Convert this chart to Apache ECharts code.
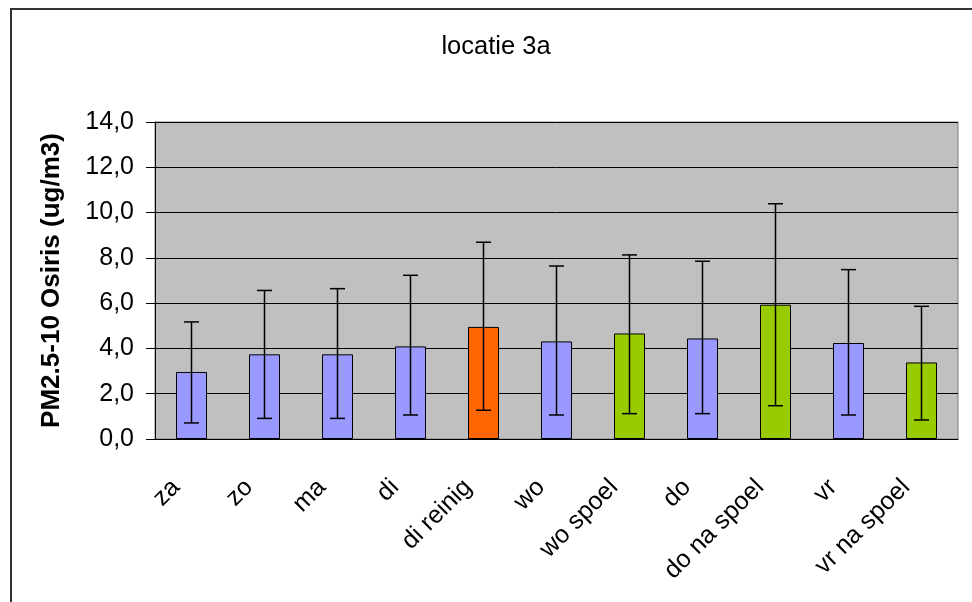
<!DOCTYPE html>
<html>
<head>
<meta charset="utf-8">
<script src="https://cdn.jsdelivr.net/npm/echarts@6/dist/echarts.min.js"></script>
<style>html,body{margin:0;padding:0;background:#fff;}#c{width:972px;height:602px;}</style>
</head>
<body>
<div id="c"></div>
<script>
const categories = ['za','zo','ma','di','di reinig','wo','wo spoel','do','do na spoel','vr','vr na spoel'];
const values   = [2.96, 3.74, 3.74, 4.09, 4.95, 4.31, 4.66, 4.44, 5.93, 4.24, 3.38];
const errLow   = [0.71, 0.91, 0.91, 1.06, 1.27, 1.06, 1.12, 1.12, 1.47, 1.06, 0.84];
const errHigh  = [5.17, 6.56, 6.64, 7.23, 8.69, 7.64, 8.13, 7.85, 10.39, 7.48, 5.86];
const groups   = ['dag','dag','dag','dag','reinig','dag','spoel','dag','spoel','dag','spoel'];
const yTicks   = [0, 2, 4, 6, 8, 10, 12, 14];

const groupColor = { dag: '#9999FF', reinig: '#FF6600', spoel: '#99CC00' };
const FONT = 'Liberation Sans, Arial, sans-serif';

const chart = echarts.init(document.getElementById('c'), null, { renderer: 'canvas' });
chart.setOption({
  animation: false,
  backgroundColor: '#ffffff',
  title: {
    text: 'locatie 3a',
    left: 491, top: 29, textAlign: 'center',
    textStyle: { fontFamily: FONT, fontSize: 25.5, fontWeight: 'normal', color: '#000' }
  },
  graphic: [{
    type: 'rect', silent: true, z: -10,
    shape: { x: 11, y: 9, width: 1100, height: 800 },
    style: { fill: 'none', stroke: '#333333', lineWidth: 2 }
  }],
  grid: {
    left: 155, right: 14, top: 122, bottom: 163,
    show: true, backgroundColor: '#C0C0C0', borderColor: '#808080', borderWidth: 1
  },
  xAxis: {
    type: 'category',
    data: categories,
    axisLine: { lineStyle: { color: '#000', width: 1 } },
    axisTick: { length: 8, lineStyle: { color: '#000' } },
    axisLabel: {
      rotate: 45, margin: 29, interval: 0, padding: [0, 22, 0, 0],
      fontFamily: FONT, fontSize: 25, color: '#000'
    }
  },
  yAxis: {
    type: 'value', min: yTicks[0], max: yTicks[yTicks.length - 1], interval: 2,
    name: 'PM2.5-10 Osiris (ug/m3)',
    nameLocation: 'middle', nameGap: 90, nameRotate: 90,
    nameTextStyle: { fontFamily: FONT, fontSize: 26, fontWeight: 'bold', color: '#000' },
    axisLine: { show: true, lineStyle: { color: '#000', width: 1 } },
    axisTick: { show: true, length: 9, lineStyle: { color: '#000' } },
    splitLine: { show: true, lineStyle: { color: '#000', width: 1 } },
    axisLabel: {
      margin: 21, fontFamily: FONT, fontSize: 25, color: '#000',
      formatter: v => v.toFixed(1).replace('.', ',')
    }
  },
  series: [
    {
      type: 'bar',
      barWidth: 31,
      data: values.map((v, i) => ({
        value: v,
        itemStyle: { color: groupColor[groups[i]], borderColor: '#000', borderWidth: 1 }
      })),
      z: 2
    },
    {
      type: 'custom',
      z: 5,
      data: categories.map((c, i) => [i, errLow[i], errHigh[i]]),
      encode: { x: 0, y: [1, 2] },
      renderItem: function (params, api) {
        const i = api.value(0);
        const lo = api.coord([i, api.value(1)]);
        const hi = api.coord([i, api.value(2)]);
        const hw = 7.5;
        const st = { stroke: '#000', lineWidth: 1.5 };
        return {
          type: 'group',
          children: [
            { type: 'line', shape: { x1: hi[0], y1: hi[1], x2: lo[0], y2: lo[1] }, style: st },
            { type: 'line', shape: { x1: hi[0] - hw, y1: hi[1], x2: hi[0] + hw, y2: hi[1] }, style: st },
            { type: 'line', shape: { x1: lo[0] - hw, y1: lo[1], x2: lo[0] + hw, y2: lo[1] }, style: st }
          ]
        };
      }
    }
  ]
});
</script>
</body>
</html>
